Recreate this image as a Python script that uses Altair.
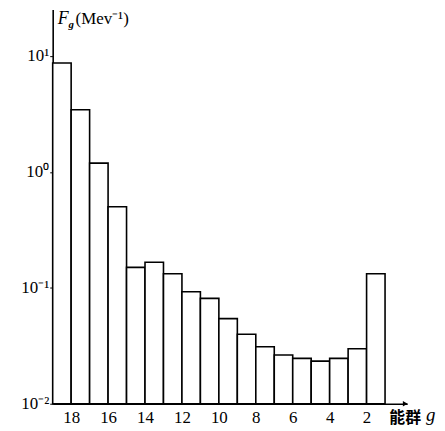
import altair as alt
import pandas as pd

groups = [18, 17, 16, 15, 14, 13, 12, 11, 10, 9, 8, 7, 6, 5, 4, 3, 2, 1]
flux = [8.7, 3.44, 1.19, 0.50, 0.150, 0.166, 0.132, 0.0925, 0.081, 0.0542,
        0.0398, 0.031, 0.0263, 0.0246, 0.0233, 0.0246, 0.0298, 0.132]
x_labels = [18, 16, 14, 12, 10, 8, 6, 4, 2]
y_ticks = [0.01, 0.1, 1, 10]

df = pd.DataFrame({"g": groups, "F": flux})
df["lo"] = df["g"] + 1
df["hi"] = df["g"]
df["base"] = 0.01

W, H = 357, 397
SERIF = "Liberation Serif"

xscale = alt.Scale(domain=[19, -0.2], nice=False, zero=False)
yscale = alt.Scale(type="log", domain=[0.01, 25.2], nice=False)

bars = alt.Chart(df).mark_rect(
    fill="white", stroke="black", strokeWidth=1.6
).encode(
    x=alt.X("lo:Q", scale=xscale,
            axis=alt.Axis(values=x_labels, ticks=False, grid=False, title=None,
                          labelFont=SERIF, labelFontSize=17, labelColor="black",
                          labelPadding=6, domainColor="black", domainWidth=1.6,
                          labelFlush=False)),
    x2="hi:Q",
    y=alt.Y("F:Q", scale=yscale,
            axis=alt.Axis(values=y_ticks, grid=False, title=None,
                          labelExpr="datum.value >= 9 ? '10¹' : datum.value >= 0.9 ? '10⁰' : datum.value >= 0.09 ? '10⁻¹' : '10⁻²'",
                          labelFont=SERIF, labelFontSize=17, labelColor="black",
                          tickSize=3, tickColor="black", labelPadding=1,
                          domainColor="black", domainWidth=1.6)),
    y2="base:Q",
)

def label(txt, x, y, size, style="normal", weight="normal", font=SERIF):
    return alt.Chart(pd.DataFrame({"t": [txt]})).mark_text(
        align="left", baseline="alphabetic", fontSize=size, fontStyle=style,
        fontWeight=weight, font=font, color="black"
    ).encode(text="t:N", x=alt.value(x), y=alt.value(y))

arrow = alt.Chart(pd.DataFrame({"a": [0]})).mark_point(
    shape="triangle-right", filled=True, color="black", size=30, opacity=1
).encode(x=alt.value(W - 2), y=alt.value(H))

chart = alt.layer(
    bars,
    arrow,
    label("F", 5, 15, 18, style="italic"),
    label("g", 16, 19, 11, style="italic", weight="bold"),
    label("(Mev⁻¹)", 23, 15, 17),
    label("能群", 339, 416, 16, weight="bold", font="Noto Sans CJK SC"),
    label("g", 376, 414, 19, style="italic"),
).properties(
    width=W, height=H,
    padding={"left": 45, "top": 0, "right": 30, "bottom": 26},
    autosize=alt.AutoSizeParams(type="none"),
).configure_view(stroke=None)

chart.save("out.html", embed_options={"renderer": "svg", "actions": False})
